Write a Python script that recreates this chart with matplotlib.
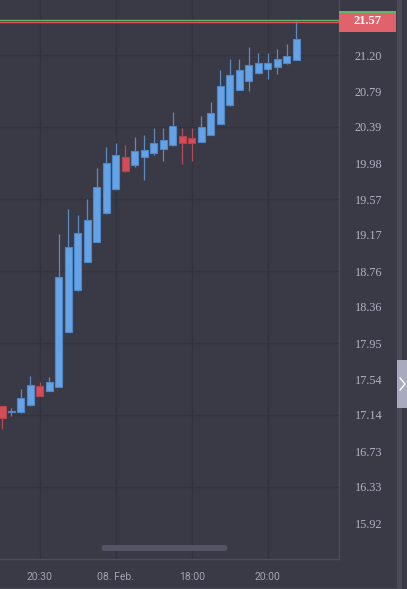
import numpy as np
import matplotlib
matplotlib.use('Agg')
import matplotlib.pyplot as plt
from matplotlib.patches import Rectangle, FancyBboxPatch
import matplotlib.transforms as mtransforms

# Dados das velas (15 min)
abertura = [17.24, 17.176, 17.172, 17.251, 17.469, 17.413, 17.458, 18.075, 18.545, 18.868,
            19.094, 19.414, 19.685, 20.053, 19.956, 20.046, 20.091, 20.14, 20.181, 20.29,
            20.26, 20.222, 20.301, 20.425, 20.633, 20.802, 20.91, 20.994, 21.039, 21.068,
            21.11, 21.144]
maxima = [17.24, 17.214, 17.432, 17.582, 17.514, 17.571, 19.177, 19.463, 19.392, 19.579,
          19.922, 20.165, 20.211, 20.185, 20.272, 20.297, 20.38, 20.38, 20.554, 20.38,
          20.373, 20.512, 20.673, 21.034, 21.155, 21.155, 21.29, 21.219, 21.219, 21.268,
          21.324, 21.587]
minima = [16.977, 17.131, 17.165, 17.245, 17.35, 17.405, 17.45, 18.07, 18.54, 18.86,
          19.09, 19.41, 19.68, 19.88, 19.94, 19.79, 20.072, 20.004, 20.175, 19.967,
          20.004, 20.215, 20.295, 20.42, 20.63, 20.80, 20.797, 20.99, 20.933, 20.989,
          21.098, 21.14]
fechamento = [17.108, 17.176, 17.327, 17.477, 17.356, 17.508, 18.699, 19.031, 19.192, 19.339,
              19.714, 19.985, 20.072, 19.888, 20.117, 20.128, 20.207, 20.238, 20.399, 20.204,
              20.204, 20.384, 20.546, 20.847, 20.974, 21.031, 21.084, 21.106, 21.106, 21.155,
              21.192, 21.384]

# Eixos
precos_eixo = [15.92, 16.33, 16.73, 17.14, 17.54, 17.95, 18.36, 18.76, 19.17, 19.57,
               19.98, 20.39, 20.79, 21.20]
indices_tempo = [4, 12, 20, 28]
rotulos_tempo = ['20:30', '08. Feb.', '18:00', '20:00']

preco_atual = 21.57
preco_compra = 21.595

# Cores
FUNDO = '#3a3a47'
GRADE = '#33333f'
BORDA = '#4c4c5b'
TEXTO = '#b0b0c2'
AZUL = '#65a2e6'
AZUL_BORDA = '#4f88c8'
AZUL_PAVIO = '#5a8ac0'
VERMELHO = '#d24d58'
VERMELHO_BORDA = '#b4434d'
VERMELHO_PAVIO = '#b54b56'

fig = plt.figure(figsize=(4.07, 5.89), dpi=100)
fig.patch.set_facecolor(FUNDO)
ax = fig.add_axes([0, 30 / 589, 339 / 407, 559 / 589])
ax.set_facecolor(FUNDO)

x = np.arange(len(abertura))
ab = np.array(abertura)
fe = np.array(fechamento)
sobe = fe >= ab

# Grade
for p in precos_eixo[1::2]:
    ax.axhline(p, color=GRADE, lw=1.0, zorder=0)
for i in indices_tempo:
    ax.axvline(i, color=GRADE, lw=1.0, zorder=0)

# Pavios
cores_pavio = [AZUL_PAVIO if s else VERMELHO_PAVIO for s in sobe]
ax.vlines(x, minima, maxima, colors=cores_pavio, lw=0.9, zorder=2)

# Corpos
base = np.minimum(ab, fe)
altura = np.maximum(np.abs(fe - ab), 0.004)
ax.bar(x, altura, bottom=base, width=0.74,
       color=[AZUL if s else VERMELHO for s in sobe],
       edgecolor=[AZUL_BORDA if s else VERMELHO_BORDA for s in sobe],
       linewidth=0.8, zorder=3)

# Linhas de preço atual
ax.axhline(preco_compra, color='#5fb868', lw=1.0, zorder=4)
ax.axhline(preco_atual, color='#e0555f', lw=1.0, zorder=4)

ax.set_xlim(-0.211, 35.53)
ax.set_ylim(15.514, 21.8205)

# Eixo y na direita
ax.yaxis.tick_right()
ax.set_yticks(precos_eixo)
ax.set_yticklabels(['%.2f' % p for p in precos_eixo], family='Liberation Serif',
                   fontsize=8.8, color=TEXTO)
ax.tick_params(axis='y', length=0, pad=11.5)

ax.set_xticks(indices_tempo)
ax.set_xticklabels(rotulos_tempo, family='Roboto', fontsize=7.5, color='#a2a2b2')
ax.tick_params(axis='x', length=0, pad=9)

for lado in ['top', 'left']:
    ax.spines[lado].set_visible(False)
for lado in ['right', 'bottom']:
    ax.spines[lado].set_color(BORDA)
    ax.spines[lado].set_linewidth(1.0)

# Rótulo do preço atual
trans = mtransforms.blended_transform_factory(ax.transAxes, ax.transData)
h_caixa = 21 / 88.64
ax.add_patch(Rectangle((1.0, preco_atual + 0.013 - h_caixa / 2), 57 / 339, h_caixa,
                       transform=trans, facecolor='#e0636b', edgecolor='none',
                       clip_on=False, zorder=5))
ax.add_patch(Rectangle((1.0, preco_atual + 0.013 + h_caixa / 2 - 2 / 88.64), 57 / 339, 2 / 88.64,
                       transform=trans, facecolor='#5fb868', edgecolor='none',
                       clip_on=False, zorder=6))
ax.text(1 + 28.5 / 339, preco_atual + 0.013, '%.2f' % preco_atual, transform=trans,
        ha='center', va='center', color='white', fontsize=9, fontweight='bold',
        family='Liberation Serif', zorder=7, clip_on=False)

# Barra de rolagem
ax.add_patch(FancyBboxPatch((101 / 339, 8 / 559), 127 / 339, 6 / 559,
                            boxstyle='round,pad=0,rounding_size=0.009',
                            transform=ax.transAxes, facecolor='#545466',
                            edgecolor='none', zorder=5, mutation_aspect=559 / 339))

# Faixa lateral direita e alça
fig.patches.append(Rectangle((397 / 407, 0), 5 / 407, 1, transform=fig.transFigure,
                             facecolor='#4a4a59', edgecolor='none'))
fig.patches.append(Rectangle((397 / 407, 1 - 408 / 589), 10 / 407, 48 / 589,
                             transform=fig.transFigure, facecolor='#a9a9c0', edgecolor='none'))
fig.lines.append(plt.Line2D([400 / 407, 405 / 407, 400 / 407],
                            [1 - 378 / 589, 1 - 384 / 589, 1 - 390 / 589],
                            transform=fig.transFigure, color='white', lw=1.0))
fig.lines.append(plt.Line2D([0, 397 / 407], [1 / 589, 1 / 589], transform=fig.transFigure,
                            color='#464654', lw=1.0))

fig.savefig('out.png', dpi=100, facecolor=FUNDO)
